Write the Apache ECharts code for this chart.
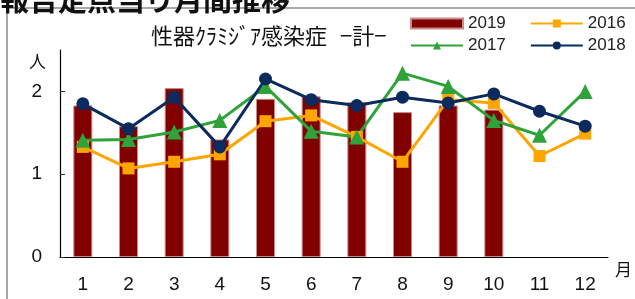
<!DOCTYPE html>
<html>
<head>
<meta charset="utf-8">
<script src="https://cdn.jsdelivr.net/npm/echarts@6/dist/echarts.min.js"></script>
<style>
  html, body { margin: 0; padding: 0; background: #fff; }
  #chart { width: 635px; height: 299px; }
</style>
</head>
<body>
<div id="chart"></div>
<script>
// 性器クラミジア感染症 月別 報告定点当り
var months = ['1', '2', '3', '4', '5', '6', '7', '8', '9', '10', '11', '12'];
var yTicks = [0, 1, 2];
var d2019 = [1.83, 1.58, 2.04, 1.42, 1.91, 1.94, 1.87, 1.75, 1.83, 1.78, null, null];
var d2016 = [1.33, 1.07, 1.15, 1.24, 1.64, 1.71, 1.45, 1.15, 1.90, 1.86, 1.22, 1.49];
var d2017 = [1.41, 1.42, 1.51, 1.65, 2.06, 1.52, 1.45, 2.22, 2.06, 1.65, 1.47, 2.00];
var d2018 = [1.85, 1.55, 1.93, 1.33, 2.15, 1.90, 1.83, 1.93, 1.86, 1.97, 1.76, 1.58];

var numFont = '"Liberation Sans Narrow", "Liberation Sans", sans-serif';

var myChart = echarts.init(document.getElementById('chart'));

function legendRow(names, top) {
    return {
        data: names.map(function (n) {
            return n === '2019' ? { name: n, icon: 'rect' } : { name: n };
        }),
        orient: 'horizontal',
        left: 410,
        top: top,
        width: 225,
        padding: 0,
        itemWidth: 52,
        itemHeight: 10,
        itemGap: 24,
        textStyle: { fontFamily: numFont, fontSize: 17, color: '#222' }
    };
}

var option = {
    animation: false,
    grid: {
        left: 60,
        right: 27,
        top: 50,
        bottom: 42
    },
    legend: [legendRow(['2019', '2016'], 15), legendRow(['2017', '2018'], 37)],
    graphic: [
        {
            type: 'polyline',
            shape: { points: [[7, 299], [7, 8], [635, 8]] },
            style: { stroke: '#8c8c8c', lineWidth: 1.5, fill: null }
        },
        {
            type: 'text',
            left: 0,
            top: -15,
            style: {
                text: '報告定点当り月間推移',
                font: 'bold 29px "Noto Sans CJK JP"',
                fill: '#111'
            }
        },
        {
            type: 'text',
            left: 151,
            top: 25,
            style: {
                text: '性器ｸﾗﾐｼﾞｱ感染症',
                font: '22px "Noto Sans CJK JP"',
                fill: '#111'
            }
        },
        {
            type: 'text',
            left: 340,
            top: 25,
            style: {
                text: '−計−',
                font: '22px "Noto Sans CJK JP"',
                fill: '#111'
            }
        },
        {
            type: 'text',
            left: 29,
            top: 53,
            style: { text: '人', font: '17px "Noto Sans CJK JP"', fill: '#111' }
        },
        {
            type: 'text',
            left: 615,
            top: 261,
            style: { text: '月', font: '17px "Noto Sans CJK JP"', fill: '#111' }
        }
    ],
    xAxis: {
        type: 'category',
        data: months,
        boundaryGap: true,
        axisLine: { lineStyle: { color: '#000', width: 1.2 } },
        axisTick: { inside: true, length: 5, lineStyle: { color: '#333' } },
        axisLabel: { fontFamily: numFont, fontSize: 19, color: '#111', margin: 18 },
        splitLine: { show: false }
    },
    yAxis: {
        type: 'value',
        min: 0,
        max: 2.5,
        axisLine: { show: true, lineStyle: { color: '#000', width: 1.2 } },
        axisTick: { show: true, inside: true, length: 5, customValues: yTicks, lineStyle: { color: '#333' } },
        axisLabel: { fontFamily: numFont, fontSize: 19, color: '#111', margin: 18, customValues: yTicks },
        splitLine: { show: false }
    },
    series: [
        {
            name: '2019',
            type: 'bar',
            data: d2019,
            barWidth: 19,
            itemStyle: { color: '#800000', borderColor: '#c98a8a', borderWidth: 1 }
        },
        {
            name: '2016',
            type: 'line',
            data: d2016,
            symbol: 'rect',
            symbolSize: 12,
            lineStyle: { color: '#ffa500', width: 3 },
            itemStyle: { color: '#ffa500' }
        },
        {
            name: '2017',
            type: 'line',
            data: d2017,
            symbol: 'triangle',
            symbolSize: 15,
            lineStyle: { color: '#2fa23a', width: 3 },
            itemStyle: { color: '#2fa23a' }
        },
        {
            name: '2018',
            type: 'line',
            data: d2018,
            symbol: 'circle',
            symbolSize: 13,
            lineStyle: { color: '#0b2a5e', width: 3 },
            itemStyle: { color: '#0b2a5e' }
        }
    ]
};
myChart.setOption(option);
</script>
</body>
</html>
